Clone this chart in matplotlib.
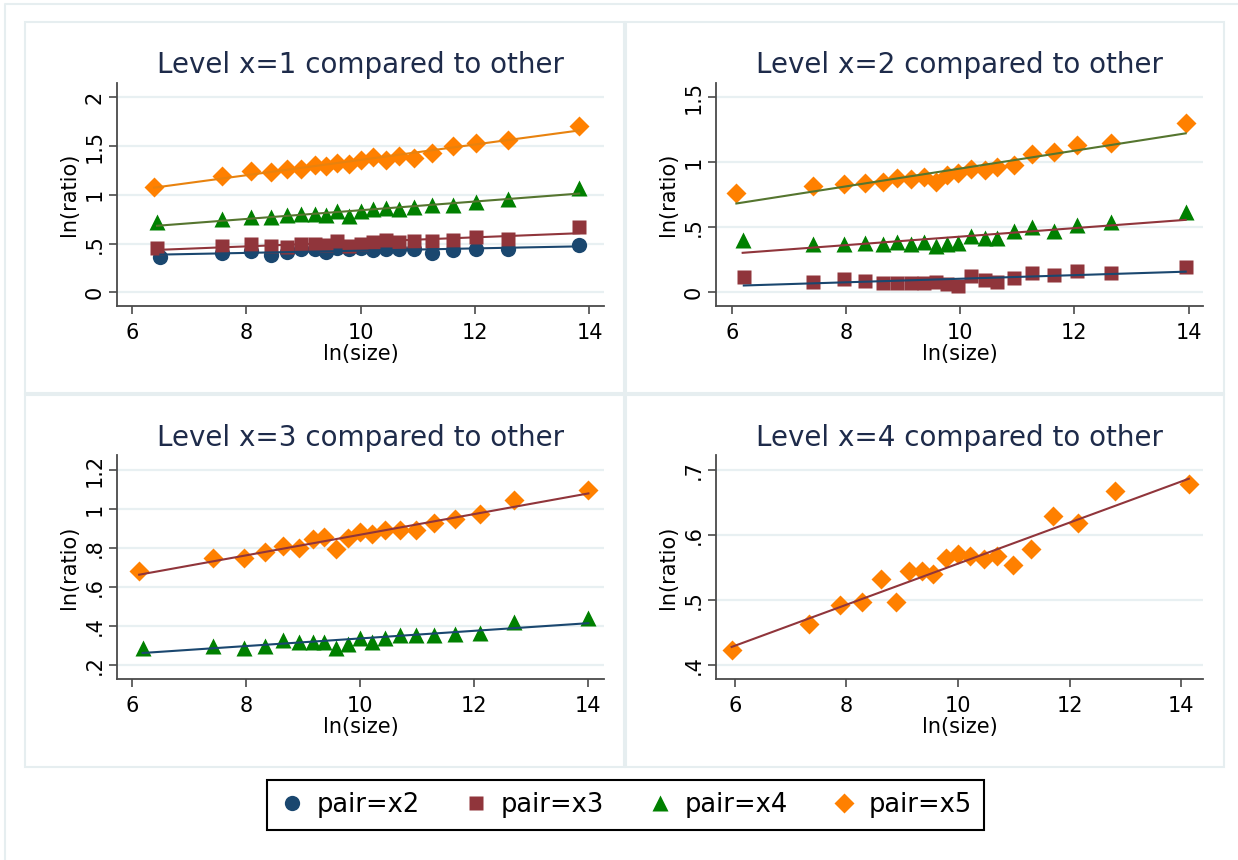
import numpy
import matplotlib
matplotlib.use('Agg')
import matplotlib.pyplot as plt
from matplotlib.lines import Line2D
from matplotlib.ticker import FuncFormatter

# ln(size) per panel; the first point sits at a slightly different size for each pair
size1_rest = [7.57, 8.09, 8.43, 8.71, 8.96, 9.20, 9.40, 9.59, 9.80, 10.00,
              10.22, 10.44, 10.67, 10.94, 11.24, 11.61, 12.02, 12.57, 13.82]
size1_first = {'x2': 6.50, 'x3': 6.44, 'x4': 6.44, 'x5': 6.39}

size2_rest = [7.43, 7.96, 8.34, 8.64, 8.89, 9.14, 9.36, 9.57, 9.77, 9.97,
              10.19, 10.43, 10.65, 10.95, 11.26, 11.64, 12.05, 12.65, 13.95]
size2_first = {'x3': 6.21, 'x4': 6.19, 'x5': 6.08}

size3_rest = [7.43, 7.97, 8.34, 8.66, 8.93, 9.18, 9.38, 9.59, 9.79, 10.00,
              10.22, 10.44, 10.71, 10.98, 11.30, 11.67, 12.10, 12.71, 14.01]
size3_first = {'x4': 6.19, 'x5': 6.13}

size4 = [5.94, 7.32, 7.885, 8.28, 8.61, 8.88, 9.12, 9.35, 9.56, 9.78, 10.00,
         10.22, 10.46, 10.70, 10.99, 11.31, 11.71, 12.15, 12.81, 14.14]

# ln(ratio), level x=1
r1_x2 = [0.36, 0.40, 0.42, 0.38, 0.41, 0.44, 0.44, 0.41, 0.45, 0.44,
         0.45, 0.43, 0.44, 0.44, 0.44, 0.40, 0.43, 0.44, 0.44, 0.49]
r1_x3 = [0.45, 0.48, 0.50, 0.48, 0.47, 0.50, 0.50, 0.49, 0.53, 0.48,
         0.50, 0.52, 0.54, 0.52, 0.53, 0.53, 0.54, 0.57, 0.55, 0.67]
r1_x4 = [0.72, 0.75, 0.77, 0.77, 0.79, 0.80, 0.80, 0.79, 0.83, 0.78,
         0.83, 0.85, 0.86, 0.85, 0.88, 0.90, 0.90, 0.93, 0.96, 1.07]
r1_x5 = [1.08, 1.19, 1.24, 1.23, 1.26, 1.27, 1.31, 1.30, 1.33, 1.32,
         1.36, 1.39, 1.36, 1.40, 1.38, 1.43, 1.50, 1.53, 1.56, 1.71]

# level x=2
r2_x3 = [0.115, 0.082, 0.100, 0.090, 0.074, 0.074, 0.069, 0.074, 0.082, 0.064,
         0.049, 0.126, 0.095, 0.082, 0.113, 0.151, 0.133, 0.167, 0.151, 0.192]
r2_x4 = [0.40, 0.37, 0.37, 0.38, 0.37, 0.39, 0.37, 0.39, 0.36, 0.37,
         0.38, 0.43, 0.42, 0.42, 0.47, 0.50, 0.47, 0.52, 0.54, 0.62]
r2_x5 = [0.767, 0.818, 0.833, 0.844, 0.851, 0.877, 0.869, 0.885, 0.851, 0.903,
         0.915, 0.946, 0.941, 0.967, 0.979, 1.064, 1.082, 1.133, 1.146, 1.300]

# level x=3
r3_x4 = [0.29, 0.30, 0.29, 0.30, 0.33, 0.32, 0.32, 0.32, 0.29, 0.31,
         0.34, 0.32, 0.34, 0.355, 0.355, 0.355, 0.36, 0.365, 0.42, 0.44]
r3_x5 = [0.68, 0.75, 0.75, 0.78, 0.81, 0.80, 0.845, 0.855, 0.795, 0.85,
         0.88, 0.87, 0.89, 0.89, 0.89, 0.93, 0.95, 0.975, 1.045, 1.10]

# level x=4
r4_x5 = [0.423, 0.463, 0.492, 0.497, 0.533, 0.497, 0.545, 0.545, 0.540, 0.564,
         0.571, 0.567, 0.563, 0.568, 0.554, 0.578, 0.629, 0.619, 0.667, 0.678]

pairs = ['x2', 'x3', 'x4', 'x5']
yticks1 = [0, 0.5, 1, 1.5, 2]
yticks2 = [0, 0.5, 1, 1.5]
yticks3 = [0.2, 0.4, 0.6, 0.8, 1, 1.2]
yticks4 = [0.4, 0.5, 0.6, 0.7]
xticks = [6, 8, 10, 12, 14]

# stata s2color-ish palette
NAVY = '#1a476f'
MAROON = '#90353b'
OLIVE = '#55752f'
DKORANGE = '#e8820e'
marker_style = {
    'x2': dict(marker='o', color=NAVY, ms=11),
    'x3': dict(marker='s', color=MAROON, ms=10.5),
    'x4': dict(marker='^', color='#008000', ms=11.5),
    'x5': dict(marker='D', color='#ff8000', ms=10.3),
}
FRAME = '#e6eef0'
W, H = 1238, 860


def stata_fmt(v, pos):
    s = '%g' % round(v, 3)
    if s.startswith('0.'):
        s = s[1:]
    return s


def px_rect(l, t, r, b):
    # pixel box (top-left origin) -> figure fraction [left, bottom, width, height]
    return [l / W, 1 - b / H, (r - l) / W, (b - t) / H]


def panel(fig, rect, title, series, ylim, yticks, xlim, title_y):
    ax = fig.add_axes(rect)
    for pair, x, y, lc in series:
        ax.plot(x, y, ls='none', mec='none', zorder=3, **marker_style[pair])
    for pair, x, y, lc in series:
        b, a = numpy.polyfit(x, y, 1)
        xs = numpy.array([min(x), max(x)])
        ax.plot(xs, a + b * xs, color=lc, lw=1.5, zorder=4)
    ax.set_xlim(*xlim)
    ax.set_ylim(*ylim)
    ax.set_xticks(xticks)
    ax.set_yticks(yticks)
    ax.yaxis.set_major_formatter(FuncFormatter(stata_fmt))
    for v in yticks:
        ax.axhline(v, color='#e8f0f2', lw=1.6, zorder=1)
    for s in ['top', 'right']:
        ax.spines[s].set_visible(False)
    for s in ['left', 'bottom']:
        ax.spines[s].set_color('#4a4a4a')
        ax.spines[s].set_linewidth(1.3)
    ax.tick_params(axis='both', direction='out', length=6, width=1.2,
                   color='#4a4a4a', labelsize=15)
    ax.tick_params(axis='x', pad=6)
    ax.tick_params(axis='y', pad=3)
    for lab in ax.get_yticklabels():
        lab.set_rotation(90)
        lab.set_va('center')
    ax.set_xlabel('ln(size)', fontsize=15, labelpad=1)
    ax.set_ylabel('ln(ratio)', fontsize=15, labelpad=4)
    ax.text(0.5, title_y, title, transform=ax.transAxes, ha='center',
            va='baseline', fontsize=20, color='#1e2b4a')
    return ax


def main():
    fig = plt.figure(figsize=(W / 100, H / 100), dpi=100)

    # graph region frames
    fig.add_artist(Line2D([5 / W, 5 / W, 1.0], [0.0, 1 - 4 / H, 1 - 4 / H],
                          color=FRAME, lw=1.5, transform=fig.transFigure))
    for l, t, r, b in [(25, 22, 624, 393), (626, 22, 1224, 393),
                       (25, 395, 624, 767), (626, 395, 1224, 767)]:
        fig.add_artist(plt.Rectangle((l / W, 1 - b / H), (r - l) / W, (b - t) / H,
                                     fill=False, ec=FRAME, lw=1.5,
                                     transform=fig.transFigure))

    s1 = [(p, [size1_first[p]] + size1_rest, y, lc) for p, y, lc in
          [('x2', r1_x2, NAVY), ('x3', r1_x3, MAROON),
           ('x4', r1_x4, OLIVE), ('x5', r1_x5, DKORANGE)]]
    panel(fig, px_rect(117.4, 83.3, 603.8, 306), 'Level x=1 compared to other',
          s1, (-0.14, 2.144), yticks1, (5.748, 14.25), 1.046)

    s2 = [(p, [size2_first[p]] + size2_rest, y, lc) for p, y, lc in
          [('x3', r2_x3, NAVY), ('x4', r2_x4, MAROON), ('x5', r2_x5, OLIVE)]]
    panel(fig, px_rect(716.4, 83.3, 1202.8, 306), 'Level x=2 compared to other',
          s2, (-0.105, 1.608), yticks2, (5.73, 14.25), 1.046)

    s3 = [(p, [size3_first[p]] + size3_rest, y, lc) for p, y, lc in
          [('x4', r3_x4, NAVY), ('x5', r3_x5, MAROON)]]
    panel(fig, px_rect(117.4, 455, 603.8, 679.3), 'Level x=3 compared to other',
          s3, (0.127, 1.277), yticks3, (5.748, 14.28), 1.04)

    s4 = [('x5', size4, r4_x5, MAROON)]
    panel(fig, px_rect(716.4, 455, 1202.8, 679.3), 'Level x=4 compared to other',
          s4, (0.378, 0.723), yticks4, (5.667, 14.39), 1.04)

    handles = [Line2D([], [], ls='none', mec='none', **marker_style[p]) for p in pairs]
    labels = ['pair=' + p for p in pairs]
    leg = fig.legend(handles, labels, loc='center', bbox_to_anchor=(625.5 / W, 1 - 805 / H),
                     ncol=4, fontsize=18.5, frameon=True, fancybox=False,
                     handlelength=1.0, handletextpad=0.45, columnspacing=1.7,
                     borderpad=0.45, edgecolor='black', framealpha=1)
    leg.get_frame().set_linewidth(1.5)

    fig.savefig('out.png', dpi=100)
    return


if __name__ == '__main__':
    main()
